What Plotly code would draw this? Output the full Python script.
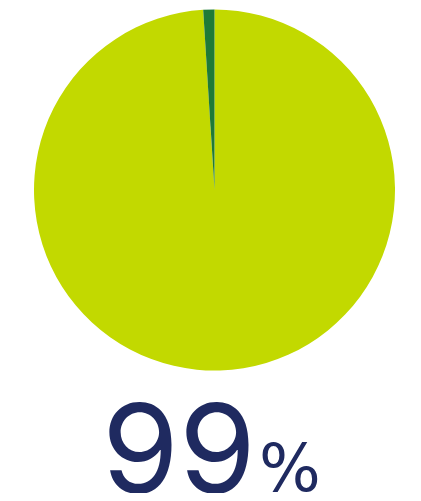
import plotly.graph_objects as go

labels = ["Yes", "No"]
values = [99, 1]
colors = ["#c2d900", "#1f7a37"]
big_label = "99"
unit_label = "%"

# page has an 8px body margin, so the figure is drawn 16px smaller
W, H = 405, 485
_NAVY = "#1f2a60"
_FONT = "Inter, Roboto, sans-serif"

fig = go.Figure(
    go.Pie(
        labels=labels,
        values=values,
        sort=False,
        direction="clockwise",
        rotation=0,
        marker=dict(colors=colors, line=dict(width=0)),
        textinfo="none",
        hoverinfo="label+percent",
        domain=dict(x=[26 / W, 387 / W], y=[1 - 363 / H, 1 - 1 / H]),
        showlegend=False,
    )
)

fig.add_annotation(
    text=big_label, x=92 / W, y=1 - 440 / H, xref="paper", yref="paper",
    xanchor="left", yanchor="middle", showarrow=False,
    font=dict(family=_FONT, size=124, color=_NAVY),
)
fig.add_annotation(
    text=unit_label, x=249 / W, y=1 - 460 / H, xref="paper", yref="paper",
    xanchor="left", yanchor="middle", showarrow=False,
    font=dict(family="DejaVu Sans, sans-serif", size=65, color=_NAVY),
)

fig.update_layout(
    width=W,
    height=H,
    margin=dict(l=0, r=0, t=0, b=0),
    paper_bgcolor="white",
    plot_bgcolor="white",
)
fig.write_html("out.html")
